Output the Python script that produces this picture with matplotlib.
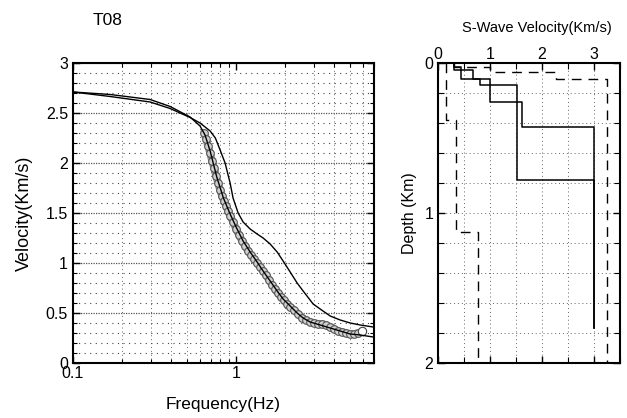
import matplotlib
matplotlib.use("Agg")
import matplotlib.pyplot as plt
from matplotlib.ticker import MultipleLocator, FixedLocator, NullFormatter, FixedFormatter

plt.rcParams['font.family'] = ['Liberation Sans', 'DejaVu Sans']

# ---------------- data: dispersion curves ----------------
# observed phase velocity (circles)
obs_freq = [0.636, 0.655, 0.673, 0.693, 0.712, 0.733, 0.754, 0.775, 0.798, 0.820,
            0.844, 0.868, 0.893, 0.919, 0.959, 1.000, 1.043, 1.089, 1.136, 1.185,
            1.236, 1.290, 1.345, 1.404, 1.464, 1.528, 1.594, 1.663, 1.735, 1.810,
            1.889, 1.970, 2.056, 2.145, 2.269, 2.401, 2.541, 2.688, 2.844, 3.010,
            3.185, 3.370, 3.566, 3.773, 3.992, 4.224, 4.470, 4.730, 5.005, 5.296,
            5.604]
obs_vel = [2.30, 2.24, 2.17, 2.10, 2.02, 1.95, 1.87, 1.80, 1.73, 1.67,
           1.62, 1.57, 1.52, 1.47, 1.41, 1.34, 1.28, 1.22, 1.17, 1.12,
           1.08, 1.04, 1.00, 0.96, 0.92, 0.88, 0.83, 0.78, 0.74, 0.70,
           0.66, 0.63, 0.59, 0.56, 0.53, 0.49, 0.45, 0.43, 0.41, 0.40,
           0.39, 0.39, 0.38, 0.36, 0.34, 0.32, 0.31, 0.30, 0.29, 0.29,
           0.30]
obs_last_freq = [5.93]
obs_last_vel = [0.32]

# theoretical curve of final model (fits observations)
fit_freq = [0.100, 0.169, 0.297, 0.394, 0.522, 0.601, 0.645, 0.693, 0.761, 0.836,
            0.919, 1.000, 1.104, 1.219, 1.345, 1.464, 1.617, 1.785, 1.942, 2.145,
            2.367, 2.576, 2.844, 3.276, 3.773, 4.345, 5.005, 5.764, 6.930]
fit_vel = [2.71, 2.685, 2.635, 2.565, 2.46, 2.37, 2.28, 2.12, 1.86, 1.65,
           1.49, 1.36, 1.22, 1.11, 1.01, 0.92, 0.82, 0.72, 0.64, 0.57,
           0.50, 0.45, 0.41, 0.38, 0.35, 0.32, 0.29, 0.28, 0.26]

# theoretical curve of initial model
init_freq = [0.100, 0.169, 0.297, 0.394, 0.522, 0.601, 0.693, 0.746, 0.798, 0.856,
             0.919, 0.958, 1.029, 1.104, 1.219, 1.345, 1.464, 1.617, 1.785, 1.942,
             2.145, 2.367, 2.576, 2.967, 3.276, 3.773, 4.345, 5.005, 5.764, 6.930]
init_vel = [2.71, 2.665, 2.61, 2.545, 2.455, 2.40, 2.32, 2.25, 2.13, 2.00,
            1.80, 1.65, 1.50, 1.41, 1.34, 1.29, 1.25, 1.19, 1.11, 1.02,
            0.91, 0.80, 0.72, 0.59, 0.54, 0.47, 0.43, 0.40, 0.38, 0.36]

# ---------------- data: S-wave velocity profiles ----------------
prof_a_vel = [0.30, 0.45, 0.81, 1.52, 3.00]
prof_a_top = [0.00, 0.03, 0.11, 0.15, 0.78]
prof_a_bot = 1.77

prof_b_vel = [0.30, 0.68, 1.00, 1.62, 3.00]
prof_b_top = [0.00, 0.05, 0.11, 0.26, 0.43]
prof_b_bot = 1.77

lim_low_vel = [0.15, 0.34, 0.77]
lim_low_top = [0.00, 0.38, 1.13]
lim_high_vel = [0.30, 1.00, 2.27, 3.25]
lim_high_top = [0.00, 0.025, 0.06, 0.11]
lim_bot = 2.0

x_ticks_right = [0, 1, 2, 3]
y_ticks_right = [0, 1, 2]
y_ticks_left = [0, 0.5, 1, 1.5, 2, 2.5, 3]
y_ticklabels_left = ['0', '0.5', '1', '1.5', '2', '2.5', '3']


def step_xy(vels, tops, bottom):
    xs, ys = [], []
    bots = tops[1:] + [bottom]
    for v, t, b in zip(vels, tops, bots):
        xs += [v, v]
        ys += [t, b]
    return xs, ys


fig = plt.figure(figsize=(6.27, 4.18), dpi=100)

# ---------------- left panel ----------------
ax = fig.add_axes([0.1164, 0.1316, 0.4800, 0.7177])
ax.set_xscale('log')
ax.set_xlim(0.1, 7.0)
ax.set_ylim(0, 3)

ax.plot(obs_freq, obs_vel, color='#8e8e8e', lw=5.5, solid_capstyle='round', zorder=2)
ax.plot(obs_freq, obs_vel, 'o', ms=5.5, mfc='#d0d0d0', mec='#555555', mew=0.8, zorder=3)
ax.plot(obs_last_freq, obs_last_vel, 'o', ms=6, mfc='white', mec='#444444', mew=0.8, zorder=4)
ax.plot(fit_freq, fit_vel, color='black', lw=1.0, zorder=5)
ax.plot(init_freq, init_vel, color='black', lw=1.0, zorder=5)

ax.yaxis.set_major_locator(FixedLocator(y_ticks_left))
ax.yaxis.set_major_formatter(FixedFormatter(y_ticklabels_left))
ax.yaxis.set_minor_locator(MultipleLocator(0.1))
ax.xaxis.set_major_locator(FixedLocator([0.1, 1]))
ax.xaxis.set_major_formatter(FixedFormatter(['0.1', '1']))
ax.xaxis.set_minor_locator(FixedLocator([0.2, 0.3, 0.4, 0.5, 0.6, 0.7, 0.8, 0.9,
                                         2, 3, 4, 5, 6, 7]))
ax.xaxis.set_minor_formatter(NullFormatter())

ax.grid(which='major', axis='y', color='#555555', ls=(0, (1, 1)), lw=0.9)
ax.grid(which='minor', axis='y', color='#444444', ls=(0, (1, 4)), lw=0.8)
ax.grid(which='minor', axis='x', color='#666666', ls=(0, (1, 3)), lw=0.7)
ax.tick_params(which='both', direction='in', top=True, right=True, labelsize=11.5)
ax.tick_params(which='major', length=5, width=1)
ax.tick_params(which='minor', length=3, width=0.8)
ax.tick_params(axis='x', pad=2)
for s in ax.spines.values():
    s.set_linewidth(1.5)
ax.set_xlabel('Frequency(Hz)', fontsize=12.5, labelpad=12)
ax.set_ylabel('Velocity(Km/s)', fontsize=13, labelpad=9)
fig.text(0.171, 0.952, 'T08', fontsize=12.5, ha='center', va='center')

# ---------------- right panel ----------------
ax2 = fig.add_axes([0.6986, 0.1316, 0.2903, 0.7177])
ax2.set_xlim(0, 3.5)
ax2.set_ylim(2, 0)

for vels, tops, bot in [(lim_low_vel, lim_low_top, lim_bot),
                        (lim_high_vel, lim_high_top, lim_bot)]:
    xs, ys = step_xy(vels, tops, bot)
    ax2.plot(xs, ys, color='black', lw=1.0, ls=(0, (7, 5)))
for vels, tops, bot in [(prof_a_vel, prof_a_top, prof_a_bot),
                        (prof_b_vel, prof_b_top, prof_b_bot)]:
    xs, ys = step_xy(vels, tops, bot)
    ax2.plot(xs, ys, color='black', lw=1.1)

ax2.xaxis.tick_top()
ax2.xaxis.set_major_locator(FixedLocator(x_ticks_right))
ax2.xaxis.set_minor_locator(MultipleLocator(0.5))
ax2.yaxis.set_major_locator(FixedLocator(y_ticks_right))
ax2.yaxis.set_minor_locator(MultipleLocator(0.2))
ax2.grid(which='both', color='#666666', ls=(0, (1, 3)), lw=0.7)
ax2.tick_params(which='both', direction='in', top=True, bottom=True, left=True, right=True,
                labelsize=11.5)
ax2.tick_params(which='major', length=5, width=1)
ax2.tick_params(which='minor', length=4, width=0.8)
ax2.tick_params(axis='x', pad=1)
for s in ax2.spines.values():
    s.set_linewidth(1.5)
ax2.set_ylabel('Depth (Km)', fontsize=11.5, labelpad=5)
fig.text(0.856, 0.933, 'S-Wave Velocity(Km/s)', fontsize=10.5, ha='center', va='center')

fig.savefig('out.png', dpi=100)
